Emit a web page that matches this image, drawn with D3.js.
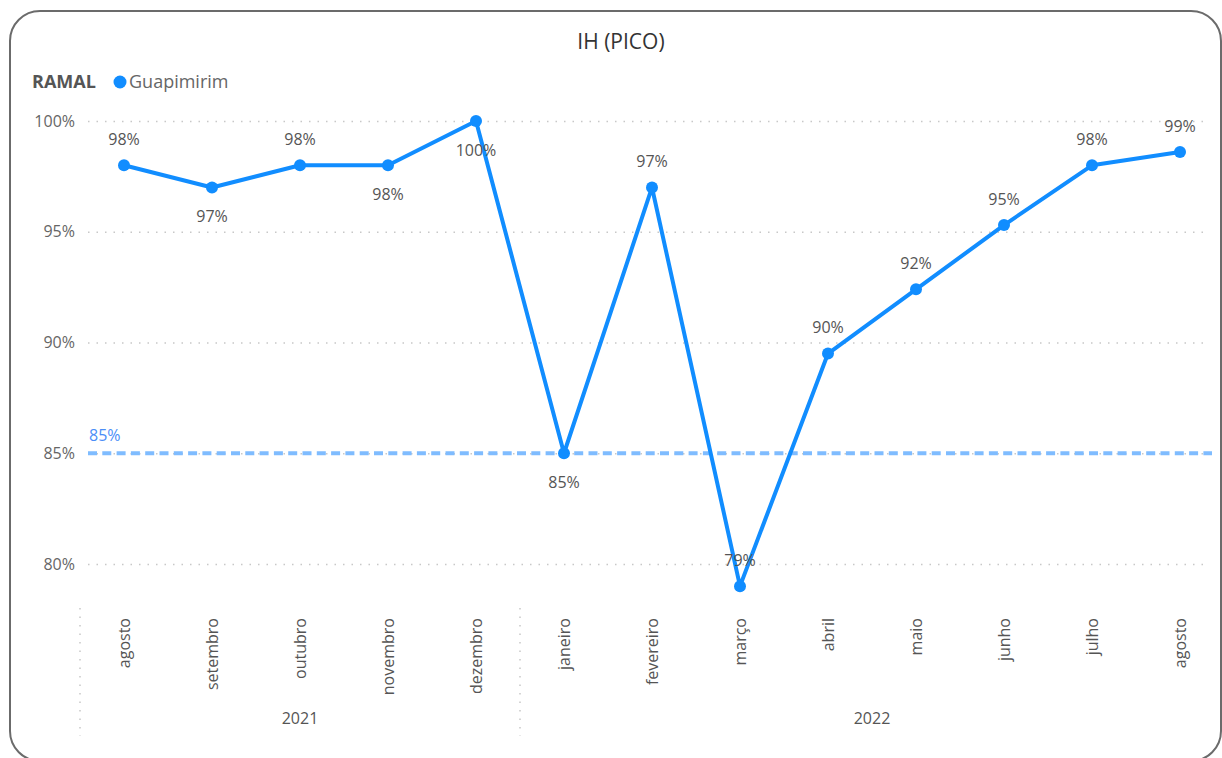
<!DOCTYPE html>
<html>
<head>
<meta charset="utf-8">
<script src="https://cdn.jsdelivr.net/npm/d3@7/dist/d3.min.js"></script>
<style>
  html, body { margin: 0; padding: 0; background: #ffffff; }
  svg { display: block; font-family: "Open Sans", "Noto Sans", sans-serif; }
</style>
</head>
<body>
<svg id="chart" width="1222" height="758"></svg>
<script>
// Monthly IH (PICO) index for the Guapimirim branch, in percent
const months = ["agosto", "setembro", "outubro", "novembro", "dezembro",
                "janeiro", "fevereiro", "março", "abril", "maio", "junho", "julho", "agosto"];
const monthYears = ["2021", "2021", "2021", "2021", "2021",
                    "2022", "2022", "2022", "2022", "2022", "2022", "2022", "2022"];
const years = ["2021", "2022"];
const guapimirim = [98, 97, 98, 98, 100, 85, 97, 79, 89.5, 92.4, 95.3, 98, 98.6];
const labelSide = ["above", "below", "above", "below", "below", "below",
                   "above", "above", "above", "above", "above", "above", "above"];
const yTicks = [80, 85, 90, 95, 100];
const target = 85;
const seriesName = "Guapimirim";
const legendTitle = "RAMAL";
const chartTitle = "IH (PICO)";

const blue = "#118DFF";
const svg = d3.select("#chart");

// card frame
svg.append("rect")
  .attr("x", 10).attr("y", 11)
  .attr("width", 1211).attr("height", 750)
  .attr("rx", 30).attr("ry", 30)
  .attr("fill", "#ffffff")
  .attr("stroke", "#6b6b6b")
  .attr("stroke-width", 2);

const keys = months.map((m, i) => monthYears[i] + "-" + m);

const x = d3.scalePoint().domain(keys).range([80, 1224]).padding(0.5);
const y = d3.scaleLinear().domain([80, 100]).range([564, 121]);

// title
svg.append("text")
  .attr("x", 621).attr("y", 42)
  .attr("text-anchor", "middle")
  .attr("dy", "0.35em")
  .attr("font-size", 21)
  .attr("fill", "#333333")
  .text(chartTitle);

// legend
svg.append("text")
  .attr("x", 32).attr("y", 82).attr("dy", "0.35em")
  .attr("font-size", 18).attr("font-weight", 700)
  .attr("fill", "#555555")
  .text(legendTitle);
svg.append("circle")
  .attr("cx", 120).attr("cy", 82).attr("r", 6.5)
  .attr("fill", blue);
svg.append("text")
  .attr("x", 129).attr("y", 82).attr("dy", "0.35em")
  .attr("font-size", 18)
  .attr("fill", "#666666")
  .text(seriesName);

// y axis: dotted grid lines and labels
const yAxis = d3.axisLeft(y)
  .tickValues(yTicks)
  .tickSize(-(1208 - 88))
  .tickPadding(13)
  .tickFormat(d => d + "%");
const yg = svg.append("g")
  .attr("transform", "translate(88,0)")
  .call(yAxis);
yg.select(".domain").remove();
yg.selectAll(".tick line")
  .attr("stroke", "#c8c8c8")
  .attr("stroke-width", 1.5)
  .attr("stroke-dasharray", "1.5,7");
yg.selectAll(".tick text")
  .attr("font-family", "'Open Sans', 'Noto Sans', sans-serif")
  .attr("font-size", 16)
  .attr("fill", "#666666");

// target line
svg.append("line")
  .attr("x1", 88).attr("x2", 1212)
  .attr("y1", y(target)).attr("y2", y(target))
  .attr("stroke", "#7fbcff")
  .attr("stroke-width", 4)
  .attr("stroke-dasharray", "9,5.3");
svg.append("text")
  .attr("x", 89).attr("y", y(target) - 18).attr("dy", "0.35em")
  .attr("font-size", 16)
  .attr("fill", "#4b8ef7")
  .text(target + "%");

// x axis: rotated month labels
const xAxis = d3.axisBottom(x).tickSize(0).tickFormat((d, i) => months[i]);
const xg = svg.append("g")
  .attr("transform", "translate(0,612)")
  .call(xAxis);
xg.select(".domain").remove();
xg.selectAll(".tick text")
  .attr("font-family", "'Open Sans', 'Noto Sans', sans-serif")
  .attr("font-size", 16)
  .attr("fill", "#555555")
  .attr("transform", "rotate(-90)")
  .attr("text-anchor", "end")
  .attr("x", -6)
  .attr("y", 0)
  .attr("dy", "0.35em");

// year groups with dotted separators
const step = x.step();
years.forEach(yr => {
  const idx = keys.map((k, i) => i).filter(i => monthYears[i] === yr);
  const left = x(keys[idx[0]]) - step / 2;
  const right = x(keys[idx[idx.length - 1]]) + step / 2;
  svg.append("line")
    .attr("x1", left).attr("x2", left)
    .attr("y1", 608).attr("y2", 736)
    .attr("stroke", "#c8c8c8")
    .attr("stroke-width", 1.5)
    .attr("stroke-dasharray", "1.5,7");
  svg.append("text")
    .attr("x", (left + right) / 2).attr("y", 718).attr("dy", "0.35em")
    .attr("text-anchor", "middle")
    .attr("font-size", 16)
    .attr("fill", "#555555")
    .text(yr);
});

// series line and markers
const pts = guapimirim.map((v, i) => ({ key: keys[i], v, side: labelSide[i] }));
svg.append("path")
  .datum(pts)
  .attr("fill", "none")
  .attr("stroke", blue)
  .attr("stroke-width", 4)
  .attr("stroke-linejoin", "round")
  .attr("d", d3.line().x(d => x(d.key)).y(d => y(d.v)));

svg.selectAll("circle.pt")
  .data(pts).enter().append("circle")
  .attr("class", "pt")
  .attr("cx", d => x(d.key))
  .attr("cy", d => y(d.v))
  .attr("r", 6)
  .attr("fill", blue);

// data labels
svg.selectAll("text.lbl")
  .data(pts).enter().append("text")
  .attr("class", "lbl")
  .attr("x", d => x(d.key))
  .attr("y", d => y(d.v) + (d.side === "above" ? -26 : 29))
  .attr("dy", "0.35em")
  .attr("text-anchor", "middle")
  .attr("font-size", 16)
  .attr("fill", "#555555")
  .text(d => Math.round(d.v) + "%");
</script>
</body>
</html>
